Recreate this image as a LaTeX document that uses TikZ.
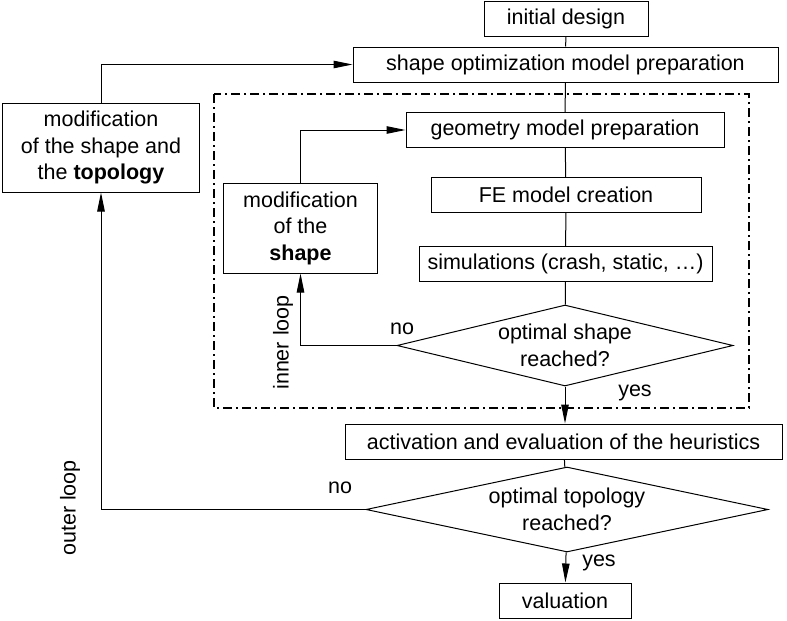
\documentclass[tikz,border=0pt]{standalone}
\usepackage{fontspec}
\setmainfont{Liberation Sans}
\usetikzlibrary{shapes.geometric,arrows.meta}

\tikzset{
  box/.style={draw, minimum height=35, inner sep=0pt},
  decision/.style={draw, diamond, inner sep=0pt, align=center},
  loopframe/.style={line width=1.8pt, dash pattern=on 9pt off 4pt on 2pt off 4pt}
}

\begin{document}
\begin{tikzpicture}[x=1pt, y=-1pt, line width=1pt,
  font=\fontsize{21.5}{26.5}\selectfont,
  >={Triangle[length=19pt,width=7.5pt]}]
\useasboundingbox (0,0) rectangle (787,621);

% frame of the inner loop
\draw[loopframe] (214,94) rectangle (749,408);

\node[box, minimum width=164] (init) at (566,19) {initial design};
\node[box, minimum width=425] (prep) at (565.5,64.5) {shape optimization model preparation};
\node[box, minimum width=318] (geom) at (565,130) {geometry model preparation};
\node[box, minimum width=270] (fem) at (566,195) {FE model creation};
\node[box, minimum width=293] (sim) at (565.5,264) {simulations (crash, static, …)};
\node[decision, aspect=4.15, minimum width=336, minimum height=81] (optshape) at (565,345.5) {optimal shape\\reached?};
\node[box, minimum width=437] (heur) at (563.5,441.5) {activation and evaluation of the heuristics};
\node[decision, aspect=4.73, minimum width=402, minimum height=85] (opttopo) at (567,509.5) {optimal topology\\reached?};
\node[box, minimum width=132] (val) at (565,600.5) {valuation};

\node[box, align=center, minimum width=154, minimum height=90] (modshape) at (300.5,228) {modification\\of the\\\textbf{shape}};
\node[box, align=center, minimum width=197, minimum height=89] (modtopo) at (101,147.5) {modification\\of the shape and\\the \textbf{topology}};

\node (no1) at (402,329) {no};
\node (yes1) at (635,393) {yes};
\node (no2) at (340,488) {no};
\node (yes2) at (599,563) {yes};
\node[rotate=90] (inner) at (283,342.5) {inner loop};
\node[rotate=90] (outer) at (70,508) {outer loop};

\draw
	(init) edge (prep)
	(prep) edge (geom)
	(geom) edge (fem)
	(fem) edge (sim)
	(sim) edge (optshape)
	(optshape) edge[->] (optshape.south |- heur.north)
	(heur) edge (opttopo)
	(opttopo) edge[->] (val)
;

% inner and outer loop
\draw[->] (optshape.west) -| (modshape.south);
\draw[->] (modshape.north) |- (geom.west);
\draw[->] (opttopo.west) -| (modtopo.south);
\draw[->] (modtopo.north) |- (prep.west);
\end{tikzpicture}
\end{document}
